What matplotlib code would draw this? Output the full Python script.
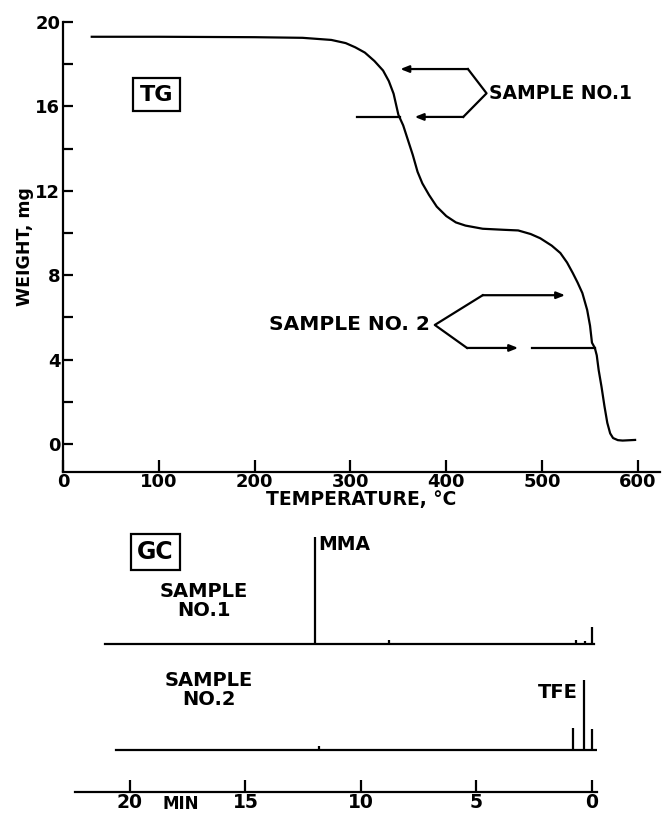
import matplotlib
matplotlib.use('Agg')
import matplotlib.pyplot as plt

# TG curve (temperature in C, weight in mg)
temp = [30, 100, 200, 250, 280, 295, 305, 315, 325, 334, 340, 345, 350, 355, 360,
        365, 370, 375, 382, 390, 400, 410, 420, 438, 460, 475, 488, 498, 510, 519,
        526, 532, 537, 542, 547, 550, 552, 555, 557, 559, 562, 565, 568, 571, 574,
        579, 584, 597]
weight = [19.3, 19.3, 19.28, 19.25, 19.15, 19.0, 18.8, 18.55, 18.15, 17.7, 17.2,
          16.6, 15.6, 15.1, 14.4, 13.7, 12.9, 12.35, 11.8, 11.25, 10.8, 10.5, 10.35,
          10.2, 10.15, 10.12, 9.95, 9.75, 9.4, 9.05, 8.6, 8.1, 7.65, 7.15, 6.35, 5.6,
          4.8, 4.55, 4.2, 3.5, 2.7, 1.8, 1.0, 0.5, 0.28, 0.18, 0.16, 0.19]

# GC traces: retention time (min) and peak height (px above baseline)
gc1_start, gc1_end = 21.1, -0.1
gc1_peaks = [12.0, 8.8, 0.7, 0.3, 0.0]
gc1_heights = [107, 4, 4, 3, 17]
gc2_start, gc2_end = 20.6, -0.2
gc2_peaks = [11.8, 0.8, 0.35, 0.0]
gc2_heights = [4, 22, 70, 21]

BOLD = dict(fontweight='bold', family='DejaVu Sans')
LW = 1.6

fig = plt.figure(figsize=(6.65, 8.13), dpi=100)

# ---------------- TG panel ----------------
ax = fig.add_axes([63 / 665, (813 - 472) / 813, 597 / 665, 450 / 813])
ax.plot(temp, weight, color='black', lw=LW)
ax.set_xlim(0, 623)
ax.set_ylim(-1.33, 20)
ax.spines['top'].set_visible(False)
ax.spines['right'].set_visible(False)
for s in ('left', 'bottom'):
    ax.spines[s].set_linewidth(LW)
ax.set_xticks([0, 100, 200, 300, 400, 500, 600])
ax.set_xticklabels(['0', '100', '200', '300', '400', '500', '600'], fontsize=13, **BOLD)
ax.set_yticks([0, 4, 8, 12, 16, 20])
ax.set_yticklabels(['0', '4', '8', '12', '16', '20'], fontsize=13, **BOLD)
ax.set_yticks([2, 6, 10, 14, 18], minor=True)
ax.tick_params(axis='both', which='both', direction='in', width=LW, color='black')
ax.tick_params(axis='x', length=9, pad=1)
ax.tick_params(axis='y', which='both', length=7, pad=2)
ax.set_xlabel('TEMPERATURE, \u00b0C', fontsize=13.5, labelpad=-1, **BOLD)
ax.set_ylabel('WEIGHT, mg', fontsize=12.5, labelpad=1, **BOLD)

ax.text(98, 16.56, 'TG', fontsize=16, ha='center', va='center', **BOLD,
        bbox=dict(boxstyle='square,pad=0.3', fc='white', ec='black', lw=LW))

arrow = dict(arrowstyle='-|>,head_length=0.5,head_width=0.2', color='black',
             lw=LW, shrinkA=0, shrinkB=0)

# sample no. 1 bracket
ax.plot([307, 352], [15.5, 15.5], color='black', lw=LW)
ax.plot([422.6, 442, 417.7], [17.77, 16.62, 15.5], color='black', lw=LW)
ax.annotate('', xy=(352, 17.77), xytext=(422.6, 17.77), arrowprops=arrow)
ax.annotate('', xy=(367, 15.5), xytext=(417.7, 15.5), arrowprops=arrow)
ax.text(445, 16.62, 'SAMPLE NO.1', fontsize=13.5, ha='left', va='center', **BOLD)

# sample no. 2 bracket
ax.plot([438, 388, 421.6], [7.05, 5.64, 4.55], color='black', lw=LW)
ax.annotate('', xy=(524, 7.05), xytext=(438, 7.05), arrowprops=arrow)
ax.annotate('', xy=(475, 4.55), xytext=(421.6, 4.55), arrowprops=arrow)
ax.plot([489, 555], [4.55, 4.55], color='black', lw=LW)
ax.text(383, 5.64, 'SAMPLE NO. 2', fontsize=14.5, ha='right', va='center', **BOLD)

# ---------------- GC panel ----------------
gx = fig.add_axes([75 / 665, (813 - 792) / 813, 522 / 665, 262 / 813])
gx.set_xlim(22.38, -0.22)
gx.set_ylim(0, 262)
base1, base2 = 148, 42
gx.plot([gc1_start, gc1_end], [base1, base1], color='black', lw=LW)
gx.vlines(gc1_peaks, base1, [base1 + h for h in gc1_heights], color='black', lw=LW)
gx.plot([gc2_start, gc2_end], [base2, base2], color='black', lw=LW)
gx.vlines(gc2_peaks, base2, [base2 + h for h in gc2_heights], color='black', lw=LW)

for s in ('left', 'top', 'right'):
    gx.spines[s].set_visible(False)
gx.spines['bottom'].set_linewidth(LW)
gx.set_yticks([])
gx.set_xticks([20, 15, 10, 5, 0])
gx.set_xticklabels(['20', '15', '10', '5', '0'], fontsize=13.5, **BOLD)
gx.tick_params(axis='x', direction='in', length=9, width=LW, pad=1)
gx.annotate('MIN', xy=(17.8, 0), xycoords=('data', 'axes fraction'),
            xytext=(0, -2.5), textcoords='offset points', ha='center', va='top',
            fontsize=12, **BOLD)

gx.text(18.9, 240, 'GC', fontsize=17, ha='center', va='center', **BOLD,
        bbox=dict(boxstyle='square,pad=0.25', fc='white', ec='black', lw=LW))
gx.text(16.8, 191, 'SAMPLE\nNO.1', fontsize=14, ha='center', va='center',
        linespacing=1.05, **BOLD)
gx.text(16.6, 102, 'SAMPLE\nNO.2', fontsize=14, ha='center', va='center',
        linespacing=1.05, **BOLD)
gx.text(11.85, 247, 'MMA', fontsize=13.5, ha='left', va='center', **BOLD)
gx.text(0.6, 100, 'TFE', fontsize=14, ha='right', va='center', **BOLD)

fig.savefig('out.png', dpi=100)
